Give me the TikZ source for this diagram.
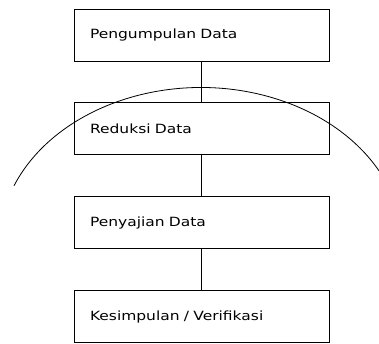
\documentclass[tikz,border=0pt]{standalone}
\usepackage{fontspec}
\setmainfont{DejaVu Sans}[FakeStretch=1.22]
\usetikzlibrary{positioning}

\tikzset{every picture/.style={line width=0.9pt}}
\tikzset{stage/.style={draw, rectangle, minimum width=255, minimum height=52, text width=223, inner xsep=16, align=left, font=\fontsize{12.7}{15}\selectfont}}

\begin{document}
\begin{tikzpicture}[x=1pt,y=1pt,yscale=-1,xscale=1,node distance=41]
	\useasboundingbox (0,0) rectangle (379,343);

	% Stages
	\node [stage] (kumpul) at (201.5,35) {Pengumpulan Data};
	\node [stage, below=of kumpul] (reduksi) {Reduksi Data};
	\node [stage, below=of reduksi] (sajian) {Penyajian Data};
	\node [stage, below=of sajian] (simpul) {Kesimpulan / Verifikasi};

	% Links
	\draw (kumpul) -- (reduksi);
	\draw (reduksi) -- (sajian);
	\draw (sajian) -- (simpul);

	% Arc
	\draw [line width=0.8pt] (201,245.5) ++(202.2:202 and 158) arc [start angle=202.2, end angle=331.8, x radius=202, y radius=158];

\end{tikzpicture}
\end{document}
